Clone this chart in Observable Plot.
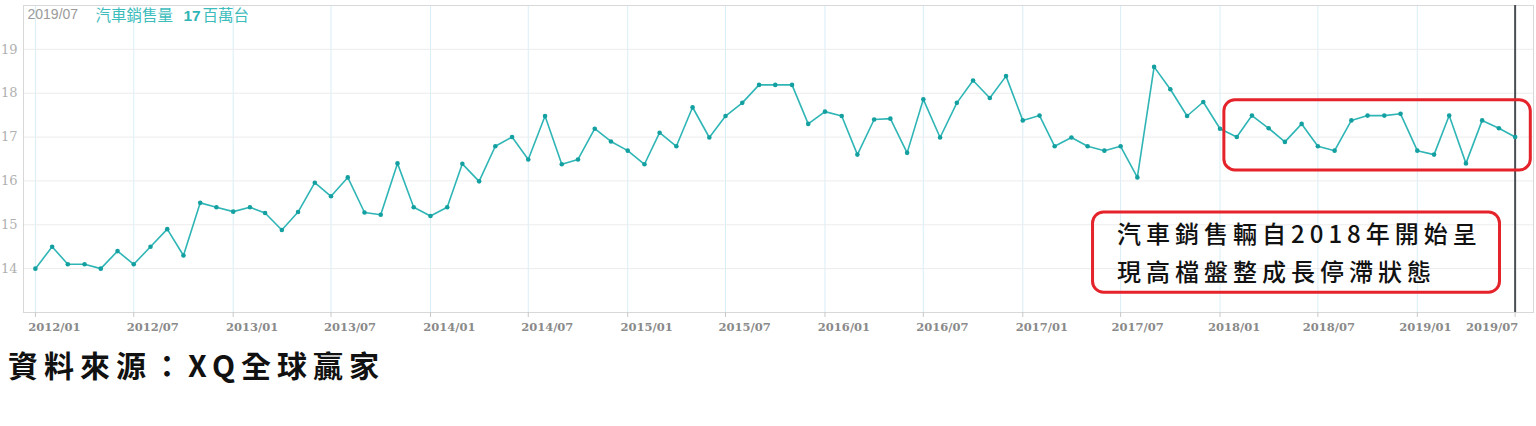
<!DOCTYPE html>
<html><head><meta charset="utf-8">
<script src="https://cdn.jsdelivr.net/npm/d3@7"></script>
<script src="https://cdn.jsdelivr.net/npm/@observablehq/plot@0.6"></script>
<style>
body{margin:0;background:#fff;width:1536px;height:426px;overflow:hidden}
#chart svg{display:block}
#chart g[font-size="24"] text{letter-spacing:5px}
#caption{font-family:"Noto Sans CJK TC";font-weight:700;font-size:30px;letter-spacing:6px;margin:4px 0 0 8px;color:#111;line-height:40px}
</style></head><body><div id="chart"></div><div id="caption">資料來源：XQ全球贏家</div>
<script>
// ---- data ----
const firstMonth = "2012/01";
const sales = [
  14.0, 14.5, 14.1, 14.1, 14.0, 14.4, 14.1, 14.5, 14.9, 14.3, 15.5, 15.4,
  15.3, 15.4, 15.27, 14.88, 15.29, 15.96, 15.65, 16.08, 15.28, 15.23, 16.4, 15.4,
  15.2, 15.4, 16.39, 15.99, 16.79, 17.0, 16.49, 17.48, 16.38, 16.49, 17.19, 16.9,
  16.69, 16.38, 17.1, 16.79, 17.68, 16.99, 17.48, 17.78, 18.19, 18.19, 18.19, 17.3,
  17.58, 17.48, 16.6, 17.4, 17.42, 16.64, 17.86, 16.99, 17.78, 18.29, 17.89, 18.39,
  17.38, 17.49, 16.79, 16.99, 16.79, 16.69, 16.79, 16.08, 18.6, 18.09, 17.48, 17.8,
  17.19, 17.0, 17.49, 17.2, 16.89, 17.3, 16.79, 16.69, 17.38, 17.49, 17.49, 17.53,
  16.69, 16.6, 17.49, 16.4, 17.38, 17.2, 17.0
];
const xTickLabels = ["2012/01","2012/07","2013/01","2013/07","2014/01","2014/07","2015/01","2015/07",
  "2016/01","2016/07","2017/01","2017/07","2018/01","2018/07","2019/01","2019/07"];
const yTicks = [14, 15, 16, 17, 18, 19];
const xDomain = ["2011-12-10", "2019-08-04"];
const yDomain = [13, 20];
const headerDate = "2019/07";
const headerLabel = "汽車銷售量 ";
const headerValue = "17";
const headerUnit = "百萬台";
const highlightBox = [{x1: "2018-01-09", x2: "2019-07-30", y1: 17.84, y2: 16.24}];
const noteBox = [{x1: "2017-05-11", x2: "2019-06-03", y1: 15.28, y2: 13.45}];
const noteText = "汽車銷售輛自2018年開始呈\n現高檔盤整成長停滯狀態";

// ---- build ----
const parseMonth = d3.utcParse("%Y/%m");
const start = parseMonth(firstMonth);
const data = sales.map((v, i) => ({date: d3.utcMonth.offset(start, i), value: v}));
const tickDates = xTickLabels.map(parseMonth);
const fmt = d3.utcFormat("%Y/%m");
const toDate = s => new Date(s + "T00:00:00Z");
const hb = highlightBox.map(b => ({...b, x1: toDate(b.x1), x2: toDate(b.x2)}));
const nb = noteBox.map(b => ({...b, x1: toDate(b.x1), x2: toDate(b.x2)}));
const last = data[data.length - 1];

const labelStyle = {tickSize: 0, tickPadding: 10, tickFormat: fmt,
  fill: "#8a8a8a", fontFamily: "DejaVu Serif", fontSize: 11.5, fontWeight: "bold"};
// label groups (the source spreads the last labels a little tighter)
const labelGroups = [
  [tickDates.slice(0, 11), 19],
  [tickDates.slice(11, 12), 17],
  [tickDates.slice(12, 13), 14],
  [tickDates.slice(13, 14), 11],
  [tickDates.slice(14, 15), 8],
  [tickDates.slice(15, 16), -23]
];

const chart = Plot.plot({
  width: 1536,
  height: 340,
  marginLeft: 23,
  marginRight: 3,
  marginTop: 5,
  marginBottom: 28,
  x: {type: "utc", domain: xDomain.map(toDate), axis: null},
  y: {domain: yDomain, axis: null},
  marks: [
    Plot.ruleX(tickDates, {stroke: "#d9eef8", strokeWidth: 1}),
    Plot.ruleY(yTicks, {stroke: "#ececec", strokeWidth: 1}),
    Plot.frame({stroke: "#d8d8d8"}),
    Plot.axisX({ticks: tickDates, tickSize: 5, tickFormat: () => "", stroke: "#c8c8c8"}),
    ...labelGroups.map(([t, dx]) => Plot.axisX({...labelStyle, ticks: t, dx})),
    Plot.axisY({ticks: yTicks, tickSize: 0, tickPadding: 6, tickFormat: d => String(d), fill: "#b0b0b0",
      fontFamily: "DejaVu Serif", fontSize: 13}),
    Plot.ruleX([last], {x: "date", stroke: "#4a4f55", strokeWidth: 2}),
    Plot.line(data, {x: "date", y: "value", stroke: "#2fb5b5", strokeWidth: 1.6}),
    Plot.dot(data, {x: "date", y: "value", r: 2.3, fill: "#14a0a0", stroke: "none"}),
    Plot.rect(hb, {x1: "x1", x2: "x2", y1: "y1", y2: "y2", rx: 11, fill: "none", stroke: "#e5232b", strokeWidth: 3}),
    Plot.rect(nb, {x1: "x1", x2: "x2", y1: "y1", y2: "y2", rx: 11, fill: "none", stroke: "#e5232b", strokeWidth: 3}),
    Plot.text([noteText], {x: nb[0].x1, y: nb[0].y1, text: d => d, textAnchor: "start", lineAnchor: "top",
      dx: 24, dy: 4, lineHeight: 1.58, fontSize: 24, fontWeight: 500, fill: "#111", fontFamily: "Noto Sans CJK TC"}),
    Plot.text([headerDate], {frameAnchor: "top-left", text: d => d, dx: 4, dy: 4, textAnchor: "start",
      fill: "#9a9a9a", fontSize: 14, fontFamily: "Liberation Sans"}),
    Plot.text([headerLabel], {frameAnchor: "top-left", text: d => d, dx: 72, dy: 4, textAnchor: "start",
      fill: "#3dbcbc", fontSize: 15.5, fontFamily: "Noto Sans CJK TC"}),
    Plot.text([headerValue], {frameAnchor: "top-left", text: d => d, dx: 160, dy: 4, textAnchor: "start",
      fill: "#2fb5b5", fontSize: 15.5, fontWeight: "bold", fontFamily: "Liberation Sans"}),
    Plot.text([headerUnit], {frameAnchor: "top-left", text: d => d, dx: 179, dy: 4, textAnchor: "start",
      fill: "#3dbcbc", fontSize: 15.5, fontFamily: "Noto Sans CJK TC"})
  ]
});
document.getElementById("chart").appendChild(chart);
</script>
</body></html>
